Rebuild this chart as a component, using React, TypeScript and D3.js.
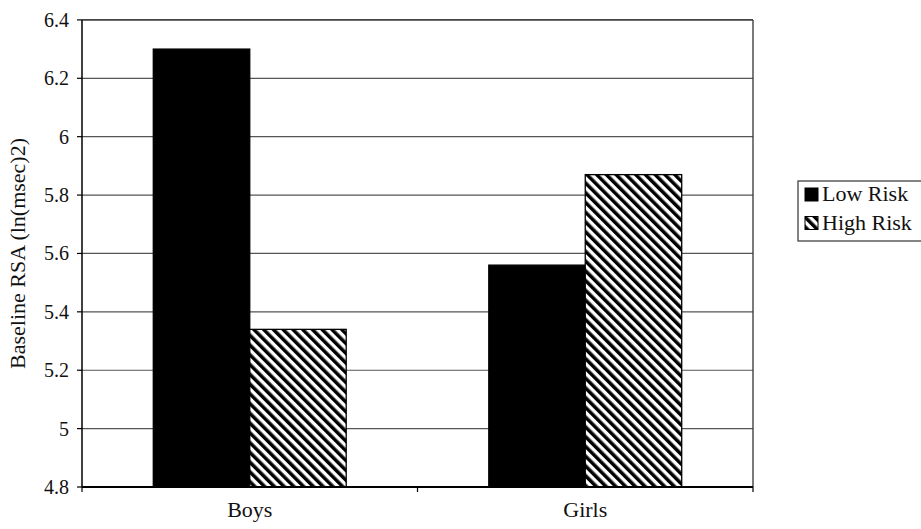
import React from "react";
import * as d3 from "d3";

const categories = ["Boys", "Girls"];
const seriesNames = ["Low Risk", "High Risk"];
const lowRisk = [6.3, 5.56];
const highRisk = [5.34, 5.87];
const yTicks = [4.8, 5, 5.2, 5.4, 5.6, 5.8, 6, 6.2, 6.4];

const W = 921;
const H = 529;
const M = { left: 82, right: 753, top: 19.9, bottom: 487 };
const FONT = "'Liberation Serif', 'Times New Roman', serif";

export default function App() {
  const y = d3.scaleLinear().domain([4.8, 6.4]).range([M.bottom, M.top]);
  const x0 = d3
    .scaleBand<string>()
    .domain(categories)
    .range([M.left, M.right])
    .paddingInner(0.425)
    .paddingOuter(0.2125);
  const x1 = d3.scaleBand<string>().domain(seriesNames).range([0, x0.bandwidth()]);
  const values: Record<string, number[]> = { "Low Risk": lowRisk, "High Risk": highRisk };
  const fills: Record<string, string> = { "Low Risk": "#000", "High Risk": "url(#hatch)" };
  const step = x0.step();
  const dividers = [M.left, M.left + step, M.right];

  return (
    <svg
      width={W}
      height={H}
      style={{ position: "absolute", left: 0, top: 0, background: "#fff" }}
      fontFamily={FONT}
    >
      <defs>
        <pattern
          id="hatch"
          patternUnits="userSpaceOnUse"
          width={6.9}
          height={6.9}
          patternTransform="rotate(-45)"
        >
          <rect width={6.9} height={6.9} fill="#fff" />
          <rect width={3.5} height={6.9} fill="#000" />
        </pattern>
      </defs>
      <rect x={0} y={0} width={W} height={H} fill="#fff" />
      {/* gridlines */}
      {yTicks.map((t) => (
        <line
          key={"g" + t}
          x1={M.left}
          x2={M.right}
          y1={y(t)}
          y2={y(t)}
          stroke="#555"
          strokeWidth={1.2}
        />
      ))}
      {/* plot border top/right */}
      <line x1={M.left} x2={M.right} y1={M.top} y2={M.top} stroke="#333" strokeWidth={1.3} />
      <line x1={M.right} x2={M.right} y1={M.top} y2={M.bottom} stroke="#333" strokeWidth={1.3} />
      {/* bars */}
      {categories.map((c, i) =>
        seriesNames.map((s) => (
          <rect
            key={c + s}
            x={(x0(c) as number) + (x1(s) as number)}
            y={y(values[s][i])}
            width={x1.bandwidth()}
            height={y(4.8) - y(values[s][i])}
            fill={fills[s]}
            stroke="#000"
            strokeWidth={1.3}
          />
        ))
      )}
      {/* y axis */}
      <line x1={M.left} x2={M.left} y1={M.top} y2={M.bottom} stroke="#000" strokeWidth={1.5} />
      {yTicks.map((t) => (
        <g key={"t" + t}>
          <line x1={M.left - 5} x2={M.left} y1={y(t)} y2={y(t)} stroke="#000" strokeWidth={1.2} />
          <text
            x={M.left - 13}
            y={y(t)}
            dy="0.35em"
            textAnchor="end"
            fontSize={20}
            fill="#111"
          >
            {d3.format("")(t)}
          </text>
        </g>
      ))}
      {/* x axis */}
      <line x1={M.left} x2={M.right} y1={M.bottom} y2={M.bottom} stroke="#000" strokeWidth={1.8} />
      {dividers.map((d, i) => (
        <line key={"d" + i} x1={d} x2={d} y1={M.bottom} y2={M.bottom + 5} stroke="#000" strokeWidth={1.2} />
      ))}
      {categories.map((c) => (
        <text
          key={"c" + c}
          x={(x0(c) as number) + x0.bandwidth() / 2}
          y={517}
          textAnchor="middle"
          fontSize={22}
          fill="#111"
        >
          {c}
        </text>
      ))}
      {/* y title */}
      <text
        transform={`translate(25,${(M.top + M.bottom) / 2}) rotate(-90)`}
        textAnchor="middle"
        fontSize={22}
        fill="#111"
      >
        Baseline RSA (ln(msec)2)
      </text>
      {/* legend */}
      <rect x={798} y={181} width={125} height={60} fill="#fff" stroke="#333" strokeWidth={1.2} />
      {seriesNames.map((s, i) => (
        <g key={"l" + s}>
          <rect
            x={805}
            y={188 + i * 28.5}
            width={13}
            height={13}
            fill={fills[s]}
            stroke="#000"
            strokeWidth={1}
          />
          <text x={822} y={201 + i * 28.5} fontSize={22} fill="#111">
            {s}
          </text>
        </g>
      ))}
    </svg>
  );
}
